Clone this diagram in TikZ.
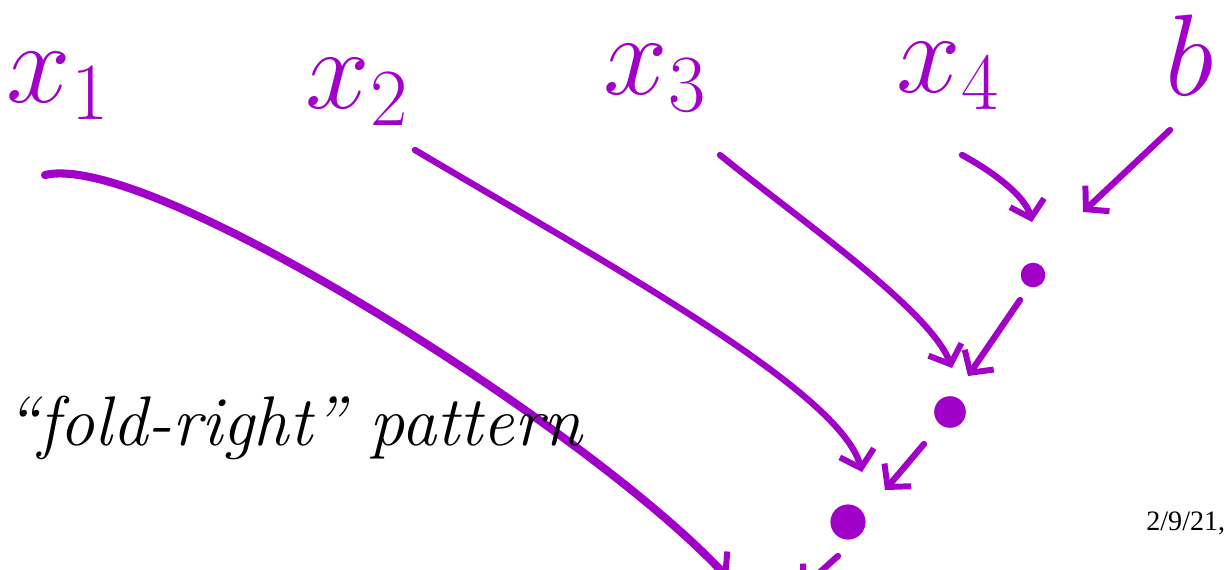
\RequirePackage{fix-cm}
\documentclass[tikz,border=0pt]{standalone}
\usepackage{fontspec}
\usetikzlibrary{arrows.meta}
\newfontfamily\datefont{Liberation Serif}
\definecolor{inkcol}{RGB}{160,0,200}
\tikzset{
  ink/.style={inkcol, line width=3.6pt, line cap=round, line join=round},
  inkarrow/.style={ink, -{Straight Barb[length=9pt, width=20pt, line width=3.4pt]}},
  inklabel/.style={inkcol, inner sep=0pt, font=\fontsize{66}{66}\selectfont},
  inkdot/.style={circle, fill=inkcol, inner sep=0pt, minimum size=#1},
}

\begin{document}
\begin{tikzpicture}[x=0.02cm, y=-0.02cm]
\clip (0,0) rectangle (1228,569);
\useasboundingbox (0,0) rectangle (1228,569);

% ------------------------------------------------------------------
% Inputs, written along the top
% ------------------------------------------------------------------
\node[inklabel] (x1) at (58,86) {$x_1$};
\node[inklabel] (x2) at (357,92) {$x_2$};
\node[inklabel] (x3) at (655,78) {$x_3$};
\node[inklabel] (x4) at (948,76) {$x_4$};
\node[inklabel] (b)  at (1190,55) {$b$};

% ------------------------------------------------------------------
% Intermediate results (dots), from the innermost fold outwards
% ------------------------------------------------------------------
\node[inkdot=14pt] (r4) at (1033,275) {};
\node[inkdot=18pt] (r3) at (950,412) {};
\node[inkdot=20pt] (r2) at (848,522) {};

% start and end points of the strokes
\coordinate (s1) at (45,175);   \coordinate (e1) at (728,578);
\coordinate (s2) at (415,150);  \coordinate (e2) at (862,472);
\coordinate (s3) at (720,155);  \coordinate (e3) at (952,368);
\coordinate (s4) at (962,155);  \coordinate (e4) at (1032,222);
\coordinate (sb) at (1170,130); \coordinate (eb) at (1083,212);
\coordinate (o4) at (1020,300); \coordinate (f4) at (968,376);
\coordinate (o3) at (924,444);  \coordinate (f3) at (885,490);
\coordinate (o2) at (838,556);  \coordinate (f2) at (800,590);

% ------------------------------------------------------------------
% Strokes: each input is combined with the result to its right
% ------------------------------------------------------------------
\draw[inkarrow, line width=4.6pt] (s1) .. controls (150,150) and (590,430) .. (e1);  % x1
\draw[inkarrow] (s2) .. controls (600,260) and (840,390) .. (e2);   % x2
\draw[inkarrow] (s3) .. controls (800,220) and (930,310) .. (e3);   % x3
\draw[inkarrow] (s4) .. controls (990,170) and (1025,195) .. (e4);  % x4
\draw[inkarrow] (sb) -- (eb);                                      % b

\draw[inkarrow] (o4) -- (f4);
\draw[inkarrow] (o3) -- (f3);
\draw[inkarrow] (o2) -- (f2);

% ------------------------------------------------------------------
% Captions
% ------------------------------------------------------------------
\node[anchor=base west, inner sep=0pt, font=\fontsize{40}{44}\selectfont\itshape] (cap) at (5,445)
  {``fold-right'' pattern};
\node[anchor=base west, inner sep=0pt, font=\datefont\fontsize{16}{18}\selectfont] (date) at (1146,530) {2/9/21,};

\end{tikzpicture}
\end{document}
